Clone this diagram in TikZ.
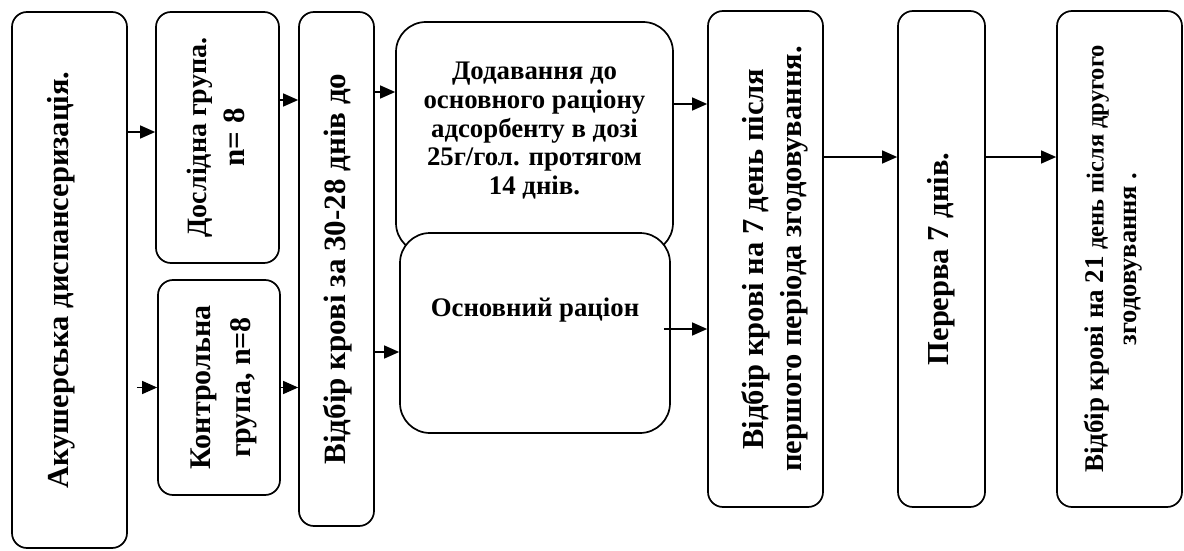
\documentclass[tikz,border=0pt]{standalone}
\usepackage{fontspec}
\setmainfont{Liberation Serif}
\usetikzlibrary{arrows.meta,shapes}
\tikzset {>={Triangle[length=15pt,width=13pt]}}
\tikzset{box/.style={draw,line width=1.7pt,rounded corners=15pt,fill=white,inner sep=0pt,font=\bfseries},
  bigbox/.style={box,rounded corners=30pt},
  arr/.style={->,line width=1.3pt}}
% rotated text, optional shift to the left
\newcommand{\vtext}[2][0pt]{\rotatebox{90}{\raisebox{#1}[\height][\depth]{\begin{tabular}{@{}c@{}}#2\end{tabular}}}}

\begin{document}
\begin{tikzpicture}[x=1pt,y=-1pt]
\useasboundingbox (0,0) rectangle (1184,551);

\node[box,minimum width=115pt,minimum height=536pt] (b1) at (69.5,280)
  {\fontsize{30.5}{36}\selectfont\vtext[8pt]{Акушерська диспансеризація.}};
\node[box,minimum width=123pt,minimum height=251pt] (b2) at (217.5,137.5)
  {\fontsize{28}{38}\selectfont\vtext{Дослідна група.\\ {\fontsize{31}{38}\selectfont n= 8}}};
\node[box,minimum width=122pt,minimum height=215pt] (b3) at (219,387.5)
  {\fontsize{30}{40}\selectfont\vtext[-3pt]{Контрольна\\ група, n=8}};
\node[box,minimum width=75pt,minimum height=514pt] (b4) at (336.5,269)
  {\fontsize{31}{36}\selectfont\vtext[-2pt]{Відбір крові за 30-28 днів до}};

\node[bigbox,minimum width=277pt,minimum height=231pt,font=\bfseries\fontsize{26.8}{28.7}\selectfont] (b5) at (534.5,137.5)
  {\raisebox{6pt}[\height][\depth]{\begin{tabular}{@{}c@{}}Додавання до\\ основного раціону\\ адсорбенту в дозі\\ 25г/гол. протягом\\ 14 днів.\end{tabular}}};
\node[bigbox,minimum width=270pt,minimum height=200pt,text depth=52pt,font=\bfseries\fontsize{26.8}{29}\selectfont] (b6) at (535,333)
  {Основний раціон};

\node[box,minimum width=115pt,minimum height=496pt] (b7) at (765.5,259)
  {\fontsize{30.5}{38}\selectfont\vtext[-9pt]{Відбір крові на 7 день після\\ першого періода згодовування.}};
\node[box,minimum width=87pt,minimum height=496pt] (b8) at (941.5,259)
  {\fontsize{30.5}{36}\selectfont\vtext{Перерва 7 днів.}};
\node[box,minimum width=125pt,minimum height=496pt] (b9) at (1119.5,259)
  {\fontsize{24.5}{33}\selectfont\vtext[6pt]{{\fontsize{27}{33}\selectfont Відбір крові на 21} день після другого\\ {\fontsize{26.5}{33}\selectfont згодовування .}}};

% arrows
\coordinate (p1) at (b1.east |- 0,132);
\coordinate (p2) at ([xshift=9pt]b1.east |- b3.west);
\coordinate (p3) at (b2.east |- 0,100);
\coordinate (p4) at (b3.east);
\coordinate (p5) at (b4.east |- 0,92);
\coordinate (p6) at (b4.east |- 0,352);
\coordinate (p7) at (b5.east |- 0,104);
\coordinate (p8) at ([xshift=-7pt]b6.east |- 0,329);
\coordinate (p9) at (b7.east |- 0,157);
\coordinate (p10) at (b8.east |- 0,157);

\draw[arr] (p1) -- (p1 -| b2.west);
\draw[arr] (p2) -- (b3.west);
\draw[arr] (p3) -- (p3 -| b4.west);
\draw[arr] (p4) -- (p4 -| b4.west);
\draw[arr] (p5) -- (p5 -| b5.west);
\draw[arr] (p6) -- (p6 -| b6.west);
\draw[arr] (p7) -- (p7 -| b7.west);
\draw[arr] (p8) -- (p8 -| b7.west);
\draw[arr] (p9) -- (p9 -| b8.west);
\draw[arr] (p10) -- (p10 -| b9.west);
\end{tikzpicture}
\end{document}
